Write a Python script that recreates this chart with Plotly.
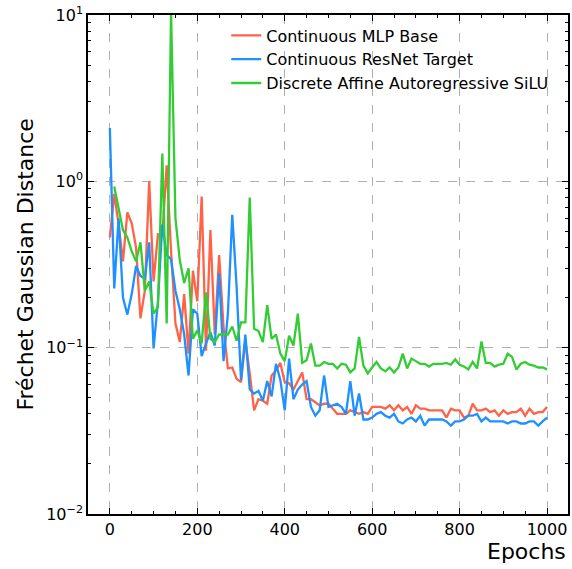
import plotly.graph_objects as go

epochs = list(range(0, 1001, 10))
epochs_green = list(range(10, 1001, 10))

mlp_base = [
    0.46, 0.84, 0.55, 0.33, 0.65, 0.56, 0.40, 0.15, 0.22, 1.0,
    0.25, 0.48, 0.47, 1.25, 0.38, 0.14, 0.108, 0.21, 0.092, 0.29,
    0.19, 0.81, 0.096, 0.51, 0.12, 0.36, 0.133, 0.075, 0.076, 0.065,
    0.062, 0.11, 0.07, 0.042, 0.049, 0.048, 0.046, 0.068, 0.073, 0.081,
    0.062, 0.061, 0.056, 0.063, 0.071, 0.049, 0.049, 0.047, 0.045, 0.046,
    0.046, 0.043, 0.040, 0.040, 0.040, 0.042, 0.041, 0.040, 0.041, 0.040,
    0.044, 0.044, 0.044, 0.043, 0.045, 0.042, 0.045, 0.042, 0.044, 0.040,
    0.045, 0.043, 0.043, 0.042, 0.042, 0.042, 0.042, 0.038, 0.043, 0.042,
    0.042, 0.038, 0.039, 0.046, 0.042, 0.042, 0.043, 0.041, 0.042, 0.039,
    0.042, 0.040, 0.041, 0.041, 0.043, 0.039, 0.043, 0.040, 0.041, 0.041,
    0.044,
]

resnet_target = [
    2.09, 0.227, 0.60, 0.20, 0.158, 0.21, 0.31, 0.27, 0.26, 0.43,
    0.099, 0.19, 0.55, 0.36, 0.34, 0.22, 0.17, 0.12, 0.068, 0.17,
    0.16, 0.089, 0.106, 0.124, 0.103, 0.28, 0.083, 0.16, 0.63, 0.23,
    0.064, 0.12, 0.056, 0.053, 0.055, 0.048, 0.063, 0.051, 0.080, 0.064,
    0.042, 0.086, 0.049, 0.056, 0.060, 0.063, 0.044, 0.039, 0.042, 0.068,
    0.044, 0.045, 0.046, 0.044, 0.040, 0.063, 0.039, 0.053, 0.037, 0.037,
    0.038, 0.040, 0.041, 0.039, 0.038, 0.040, 0.036, 0.035, 0.037, 0.038,
    0.036, 0.039, 0.034, 0.037, 0.037, 0.037, 0.037, 0.036, 0.034, 0.036,
    0.036, 0.037, 0.039, 0.039, 0.040, 0.036, 0.038, 0.036, 0.036, 0.036,
    0.036, 0.035, 0.036, 0.036, 0.035, 0.035, 0.036, 0.036, 0.034, 0.036,
    0.038,
]

discrete_silu = [
    0.93, 0.68, 0.51, 0.46, 0.38, 0.33, 0.43, 0.22, 0.25,
    0.16, 0.175, 1.47, 0.14, 10.5, 0.6, 0.335, 0.245, 0.30, 0.113,
    0.127, 0.106, 0.215, 0.113, 0.108, 0.12, 0.12, 0.12, 0.134, 0.11,
    0.142, 0.142, 0.80, 0.13, 0.126, 0.108, 0.18, 0.113, 0.12, 0.092,
    0.083, 0.118, 0.103, 0.16, 0.081, 0.084, 0.106, 0.078, 0.078, 0.082,
    0.080, 0.080, 0.075, 0.080, 0.079, 0.071, 0.075, 0.116, 0.078, 0.070,
    0.076, 0.082, 0.075, 0.072, 0.076, 0.071, 0.076, 0.092, 0.075, 0.086,
    0.083, 0.080, 0.080, 0.077, 0.080, 0.080, 0.080, 0.081, 0.079, 0.085,
    0.079, 0.077, 0.074, 0.082, 0.075, 0.109, 0.081, 0.081, 0.077, 0.079,
    0.080, 0.092, 0.088, 0.074, 0.080, 0.082, 0.079, 0.078, 0.076, 0.076,
    0.074,
]

series_names = ["Continuous MLP Base", "Continuous ResNet Target",
                "Discrete Affine Autoregressive SiLU"]
colors = ["#FF6347", "#1E90FF", "#32CD32"]

x_ticks = [0, 200, 400, 600, 800, 1000]
y_ticks = [0.01, 0.1, 1, 10]
y_ticktext = ["10<sup>\u22122</sup>", "10<sup>\u22121</sup>", "10<sup>0</sup>", "10<sup>1</sup>"]
y_minor = [m * 10 ** e for e in (-2, -1, 0) for m in range(2, 10)]

FONT = "DejaVu Sans"

fig = go.Figure()
for name, xs, ys, c in zip(series_names, [epochs, epochs, epochs_green],
                           [mlp_base, resnet_target, discrete_silu], colors):
    fig.add_trace(go.Scatter(x=xs, y=ys, mode="lines", name=name,
                             line=dict(color=c, width=2.3)))

axis_common = dict(
    showline=True, linecolor="black", linewidth=1.5, mirror="ticks",
    ticks="inside", tickcolor="black", tickwidth=1.2, ticklen=6,
    showgrid=True, gridcolor="#b0b0b0", griddash="dash", gridwidth=1,
    zeroline=False, tickfont=dict(family=FONT, size=16, color="black"),
)

fig.update_layout(
    width=572, height=569,
    margin=dict(l=88, r=2, t=15, b=55),
    paper_bgcolor="white", plot_bgcolor="white",
    font=dict(family=FONT, color="black"),
    xaxis=dict(range=[-50, 1048], tickmode="array", tickvals=x_ticks,
               minor=dict(dtick=50, tick0=0, ticks="inside", ticklen=3,
                          tickcolor="black", showgrid=False),
               **axis_common),
    yaxis=dict(type="log", range=[-2, 1], tickmode="array", tickvals=y_ticks,
               ticktext=y_ticktext,
               minor=dict(tickmode="array", tickvals=y_minor, ticks="inside",
                          ticklen=3, tickcolor="black", showgrid=False),
               **axis_common),
    legend=dict(x=0.288, y=0.993, xanchor="left", yanchor="top",
                bgcolor="rgba(255,255,255,0)", borderwidth=0,
                font=dict(family=FONT, size=16, color="black")),
    showlegend=True,
    annotations=[
        dict(text="Epochs", x=1, y=-0.076, xref="paper", yref="paper",
             xanchor="right", yanchor="middle", showarrow=False,
             font=dict(family=FONT, size=22, color="black")),
        dict(text="Fréchet Gaussian Distance", x=-0.131, y=0.5,
             xref="paper", yref="paper", xanchor="center", yanchor="middle",
             textangle=-90, showarrow=False,
             font=dict(family=FONT, size=22, color="black")),
    ],
)

fig.write_html("out.html")
